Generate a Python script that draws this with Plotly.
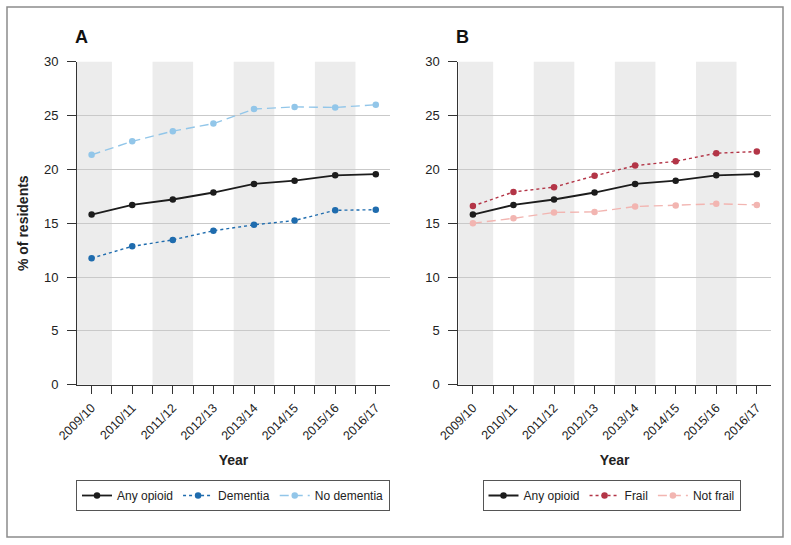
import plotly.graph_objects as go

years = ["2009/10", "2010/11", "2011/12", "2012/13", "2013/14", "2014/15", "2015/16", "2016/17"]
any_opioid = [15.8, 16.7, 17.2, 17.85, 18.65, 18.95, 19.45, 19.55]
dementia = [11.75, 12.85, 13.45, 14.3, 14.85, 15.25, 16.2, 16.25]
no_dementia = [21.35, 22.6, 23.55, 24.25, 25.6, 25.8, 25.75, 26.0]
frail = [16.6, 17.9, 18.35, 19.4, 20.35, 20.75, 21.5, 21.65]
not_frail = [15.0, 15.45, 16.0, 16.05, 16.55, 16.65, 16.8, 16.7]
y_ticks = [0, 5, 10, 15, 20, 25, 30]

W, H = 791, 545
FONT = "Liberation Sans, Arial, sans-serif"
idx = list(range(len(years)))
XR = [-0.36, len(years) - 1 + 0.35]

fig = go.Figure()

def add_series(name, vals, color, dash, width, xa, ya, legend):
    fig.add_trace(go.Scatter(
        x=idx, y=vals, name=name, mode="lines+markers",
        line=dict(color=color, dash=dash, width=width),
        marker=dict(color=color, size=6.5),
        xaxis=xa, yaxis=ya, legend=legend,
    ))

BLACK = "#1c1c1c"
add_series("Any opioid", any_opioid, BLACK, "solid", 1.8, "x", "y", "legend")
add_series("Dementia", dementia, "#1f6cae", "3px,3px", 1.4, "x", "y", "legend")
add_series("No dementia", no_dementia, "#92c6e9", "9px,5px", 1.4, "x", "y", "legend")
add_series("Any opioid", any_opioid, BLACK, "solid", 1.8, "x2", "y2", "legend2")
add_series("Frail", frail, "#b33547", "3px,3px", 1.4, "x2", "y2", "legend2")
add_series("Not frail", not_frail, "#f2b5b1", "9px,5px", 1.4, "x2", "y2", "legend2")

shapes = []
for xr, yr in (("x", "y domain"), ("x2", "y2 domain")):
    for i in idx:
        if i % 2 == 0:
            shapes.append(dict(type="rect", xref=xr, yref=yr,
                               x0=max(i - 0.5, XR[0]), x1=min(i + 0.5, XR[1]),
                               y0=0, y1=1, fillcolor="#ececec", line=dict(width=0),
                               layer="below"))
# outer border
shapes.append(dict(type="rect", xref="paper", yref="paper",
                   x0=7 / W, x1=783 / W, y0=1 - 537 / H, y1=1 - 7 / H,
                   line=dict(color="#8c8c8c", width=1.5), fillcolor="rgba(0,0,0,0)"))

yd = [1 - 384.7 / H, 1 - 61.7 / H]
xa_common = dict(
    range=XR, tickmode="array", tickvals=idx, ticktext=years, tickangle=-45,
    ticks="outside", ticklen=8, tickcolor="#333", showline=True, linecolor="#333",
    linewidth=1, showgrid=False, zeroline=False, automargin=False,
    tickfont=dict(family=FONT, size=12.5, color="#222"), ticklabelstandoff=2,
    minor=dict(tickmode="array", tickvals=[i + 0.5 for i in idx[:-1]], ticks="outside",
               ticklen=8, tickcolor="#333", showgrid=False),
    title=dict(text="<b>Year</b>", font=dict(family=FONT, size=14, color="#222"), standoff=13),
    fixedrange=True,
)
ya_common = dict(
    range=[0, 30], tickmode="array", tickvals=y_ticks, ticks="outside", ticklen=9,
    tickcolor="#333", showline=True, linecolor="#333", linewidth=1,
    showgrid=True, gridcolor="#c9c9c9", gridwidth=1, zeroline=False, automargin=False,
    tickfont=dict(family=FONT, size=13, color="#222"), ticklabelstandoff=6,
    fixedrange=True,
)

leg_common = dict(orientation="h", xanchor="center", yanchor="top", y=1 - 480 / H,
                  bordercolor="#555", borderwidth=1, bgcolor="white",
                  font=dict(family=FONT, size=12, color="#222"), itemwidth=30,
                  tracegroupgap=0)

fig.update_layout(
    width=W, height=H, paper_bgcolor="white", plot_bgcolor="white",
    margin=dict(l=0, r=0, t=0, b=0), shapes=shapes,
    font=dict(family=FONT, color="#222"),
    xaxis=dict(domain=[77 / W, 390 / W], anchor="y", **xa_common),
    xaxis2=dict(domain=[458.3 / W, 771 / W], anchor="y2", **xa_common),
    yaxis=dict(domain=yd, anchor="x",
               title=dict(text="<b>% of residents</b>", font=dict(family=FONT, size=14, color="#222"),
                          standoff=12), **ya_common),
    yaxis2=dict(domain=yd, anchor="x2", **ya_common),
    legend=dict(x=233 / W, **leg_common),
    legend2=dict(x=611.5 / W, **leg_common),
    annotations=[
        dict(text="<b>A</b>", xref="paper", yref="paper", x=73 / W, y=1 - 37 / H,
             xanchor="left", yanchor="middle", showarrow=False,
             font=dict(family=FONT, size=18, color="#111")),
        dict(text="<b>B</b>", xref="paper", yref="paper", x=454 / W, y=1 - 37 / H,
             xanchor="left", yanchor="middle", showarrow=False,
             font=dict(family=FONT, size=18, color="#111")),
    ],
    showlegend=True,
)

fig.write_html("out.html", config={"displayModeBar": False},
               post_script="document.body.style.margin='0';document.body.style.overflow='hidden';")
